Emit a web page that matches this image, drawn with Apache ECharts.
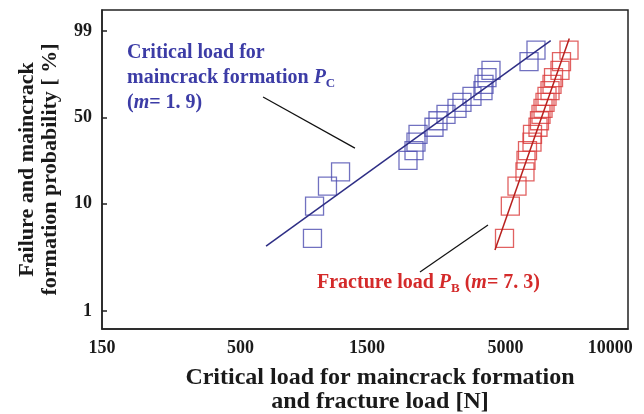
<!DOCTYPE html>
<html><head><meta charset="utf-8">
<script src="https://cdn.jsdelivr.net/npm/echarts@6/dist/echarts.min.js"></script>
<style>html,body{margin:0;padding:0;background:#fff}#c{width:644px;height:414px}</style>
</head><body><div id="c"></div>
<script>
// ---- data (load in N, probability in %) ----
const xTicks = [150, 500, 1500, 5000, 10000];
const yTicks = [1, 10, 50, 99];
const xRange = [150, 14490];
const yRange = [0.676, 99.932];

const pcLoad = [934, 951, 1064, 1192, 2142, 2257, 2296, 2337, 2685, 2780, 2980, 3279, 3424, 3735, 4110, 4146, 4255, 4406, 6131, 6514];
const pcProb = [4.8, 9.5, 14.3, 19.0, 23.8, 28.6, 33.3, 38.1, 42.9, 47.6, 52.4, 57.1, 61.9, 66.7, 71.4, 76.2, 81.0, 85.7, 90.5, 95.2];
const pbLoad = [4955, 5212, 5523, 5920, 5972, 6051, 6292, 6319, 6629, 6715, 6804, 6924, 7045, 7168, 7358, 7487, 7586, 8024, 8130, 8679];
const pbProb = [4.8, 9.5, 14.3, 19.0, 23.8, 28.6, 33.3, 38.1, 42.9, 47.6, 52.4, 57.1, 61.9, 66.7, 71.4, 76.2, 81.0, 85.7, 90.5, 95.2];

const pcFitLoad = [624, 7403];
const pcFitProb = [4.08, 97.6];
const pbFitLoad = [4561, 8700];
const pbFitProb = [3.75, 98.0];

const pcLeaderLoad = [608, 1351];
const pcLeaderProb = [66.3, 29.9];
const pbLeaderLoad = [2377, 4293];
const pbLeaderProb = [2.33, 6.39];

// ---- scale transforms (log load, Weibull probability) ----
const tx = v => Math.log10(v);
const ty = p => Math.log(-Math.log(1 - p / 100));
const fromTy = w => 100 * (1 - Math.exp(-Math.exp(w)));
const pairs = (xs, ys) => xs.map((x, i) => [tx(x), ty(ys[i])]);

const FONT = 'Liberation Serif, Times New Roman, serif';
const BLUE_T = '#3c3ca6', RED_T = '#d42a2a', INK = '#1a1a1a';

const chart = echarts.init(document.getElementById('c'));
chart.setOption({
  animation: false,
  grid: { left: 102, top: 10, right: 16, bottom: 85, outerBoundsMode: 'none', containLabel: false,
          show: true, borderColor: '#222', borderWidth: 1.5, backgroundColor: 'transparent' },
  xAxis: {
    type: 'value', min: tx(xRange[0]), max: tx(xRange[1]),
    axisLine: { show: true, onZero: false, lineStyle: { color: '#222', width: 1.5 } },
    axisTick: { show: false },
    splitLine: { show: false },
    axisLabel: {
      customValues: xTicks.map(tx), margin: 10,
      fontFamily: FONT, fontSize: 18, fontWeight: 'bold', color: INK,
      formatter: v => { const n = Math.round(Math.pow(10, v)); return n === 10000 ? '{s|' + n + '}' : String(n); },
      rich: { s: { fontFamily: FONT, fontSize: 18, fontWeight: 'bold', color: INK, padding: [0, 0, 0, 50] } }
    },
    name: 'Critical load for maincrack formation\nand fracture load [N]',
    nameLocation: 'middle', nameGap: 37,
    nameTextStyle: { fontFamily: FONT, fontSize: 24, fontWeight: 'bold', color: INK, lineHeight: 24, padding: [0, 0, 0, 30] }
  },
  yAxis: {
    type: 'value', min: ty(yRange[0]), max: ty(yRange[1]),
    axisLine: { show: true, onZero: false, lineStyle: { color: '#222', width: 1.5 } },
    axisTick: { show: true, inside: true, length: 5, customValues: yTicks.map(ty), lineStyle: { color: '#222', width: 1.5 } },
    splitLine: { show: false },
    axisLabel: {
      customValues: yTicks.map(ty), margin: 10,
      fontFamily: FONT, fontSize: 18, fontWeight: 'bold', color: INK,
      formatter: v => String(Math.round(fromTy(v)))
    },
    name: 'Failure and maincrack\nformation probability [ %]',
    nameLocation: 'middle', nameRotate: 90, nameGap: 40,
    nameTextStyle: { fontFamily: FONT, fontSize: 22, fontWeight: 'bold', color: INK, lineHeight: 23 }
  },
  series: [
    { type: 'scatter', data: pairs(pcLoad, pcProb), symbol: 'rect', symbolSize: 18,
      itemStyle: { color: 'rgba(0,0,0,0)', borderColor: '#4e4eb0', borderWidth: 1.3 }, z: 2 },
    { type: 'scatter', data: pairs(pbLoad, pbProb), symbol: 'rect', symbolSize: 18,
      itemStyle: { color: 'rgba(0,0,0,0)', borderColor: '#d93a3a', borderWidth: 1.3 }, z: 2 },
    { type: 'line', data: pairs(pcFitLoad, pcFitProb), showSymbol: false, symbol: 'none',
      lineStyle: { color: '#2e2e85', width: 1.5 }, z: 3 },
    { type: 'line', data: pairs(pbFitLoad, pbFitProb), showSymbol: false, symbol: 'none',
      lineStyle: { color: '#b8201e', width: 1.5 }, z: 3 },
    { type: 'line', data: pairs(pcLeaderLoad, pcLeaderProb), showSymbol: false, symbol: 'none',
      lineStyle: { color: '#111', width: 1.2 }, z: 3 },
    { type: 'line', data: pairs(pbLeaderLoad, pbLeaderProb), showSymbol: false, symbol: 'none',
      lineStyle: { color: '#111', width: 1.2 }, z: 3 }
  ],
  graphic: [
    { type: 'text', left: 127, top: 43, z: 10,
      style: {
        text: '{b|Critical load for}\n{b|maincrack formation }{i|P}{s|C}\n{b|(}{i|m}{b|= 1. 9)}',
        rich: {
          b: { fontFamily: FONT, fontSize: 20, fontWeight: 'bold', fill: BLUE_T, lineHeight: 25 },
          i: { fontFamily: FONT, fontSize: 20, fontWeight: 'bold', fontStyle: 'italic', fill: BLUE_T, lineHeight: 25 },
          s: { fontFamily: FONT, fontSize: 13, fontWeight: 'bold', fill: BLUE_T, lineHeight: 14, verticalAlign: 'bottom' }
        }
      } },
    { type: 'text', left: 317, top: 273, z: 10,
      style: {
        text: '{b|Fracture load }{i|P}{s|B}{b| (}{i|m}{b|= 7. 3)}',
        rich: {
          b: { fontFamily: FONT, fontSize: 20, fontWeight: 'bold', fill: RED_T, lineHeight: 25 },
          i: { fontFamily: FONT, fontSize: 20, fontWeight: 'bold', fontStyle: 'italic', fill: RED_T, lineHeight: 25 },
          s: { fontFamily: FONT, fontSize: 13, fontWeight: 'bold', fill: RED_T, lineHeight: 14, verticalAlign: 'bottom' }
        }
      } }
  ]
});
</script></body></html>
